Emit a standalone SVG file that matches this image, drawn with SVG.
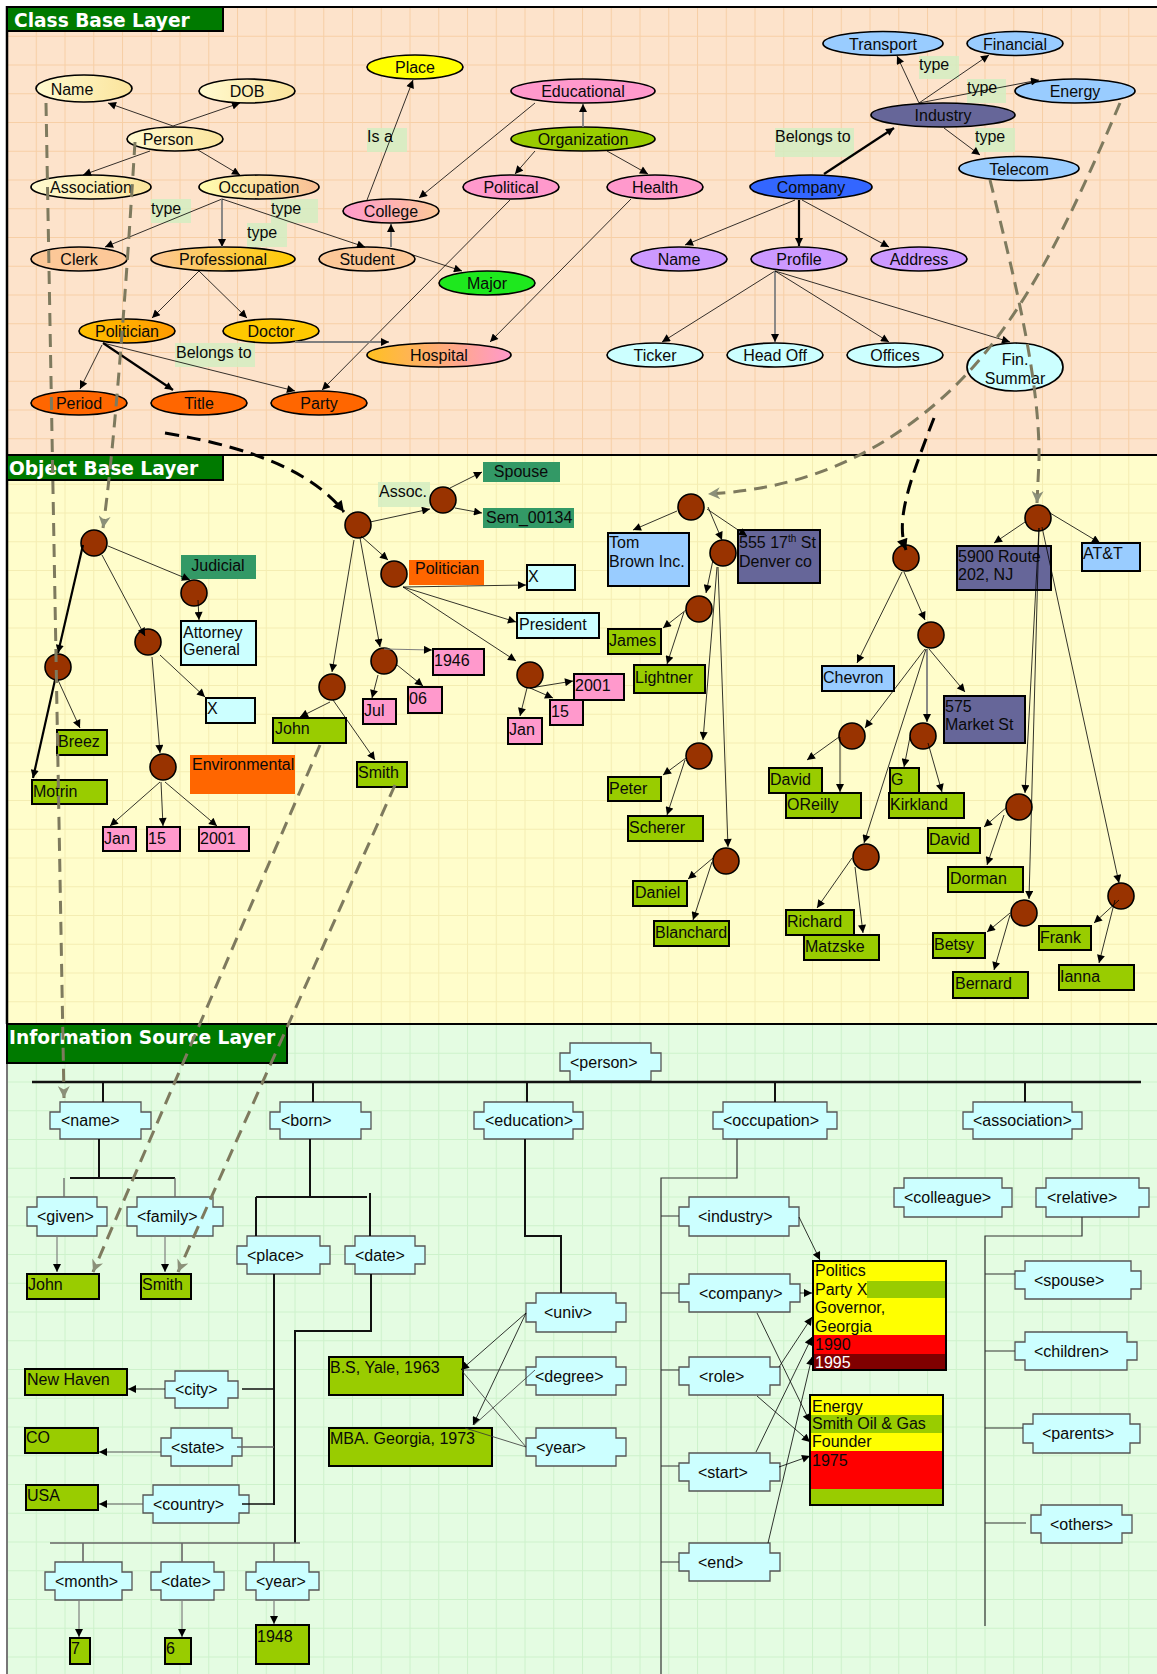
<svg xmlns="http://www.w3.org/2000/svg" width="1157" height="1674" viewBox="0 0 1157 1674">
<defs>
<pattern id="gridC" x="7" y="7" width="28.75" height="28.75" patternUnits="userSpaceOnUse">
<rect width="28.75" height="28.75" fill="#FDE3CB"/>
<path d="M0,0.5H28.75M0.5,0V28.75" stroke="#F7CFA6" stroke-width="1"/>
</pattern>
<pattern id="gridO" x="7" y="455" width="28.75" height="28.75" patternUnits="userSpaceOnUse">
<rect width="28.75" height="28.75" fill="#FFFDCB"/>
<path d="M0,0.5H28.75M0.5,0V28.75" stroke="#F4EDB2" stroke-width="1"/>
</pattern>
<pattern id="gridI" x="7" y="1024" width="28.75" height="28.75" patternUnits="userSpaceOnUse">
<rect width="28.75" height="28.75" fill="#E4FCE2"/>
<path d="M0,0.5H28.75M0.5,0V28.75" stroke="#CDF2CB" stroke-width="1"/>
</pattern>
<linearGradient id="gY"><stop offset="0" stop-color="#FFFAD0"/><stop offset="1" stop-color="#FBE49C"/></linearGradient>
<linearGradient id="gOcc"><stop offset="0" stop-color="#FFFFB0"/><stop offset="1" stop-color="#F8BE94"/></linearGradient>
<linearGradient id="gProf"><stop offset="0" stop-color="#FCC898"/><stop offset="1" stop-color="#FFCC00"/></linearGradient>
<linearGradient id="gPol"><stop offset="0" stop-color="#FFC000"/><stop offset="1" stop-color="#FF9A00"/></linearGradient>
<linearGradient id="gCol"><stop offset="0" stop-color="#FF99CC"/><stop offset="1" stop-color="#FCC898"/></linearGradient>
<linearGradient id="gHos"><stop offset="0" stop-color="#FFC020"/><stop offset="1" stop-color="#FF99CC"/></linearGradient>
<marker id="ah" viewBox="0 0 10 10" refX="10" refY="5" markerWidth="9" markerHeight="8" markerUnits="userSpaceOnUse" orient="auto"><path d="M0,0L10,5L0,10z" fill="#000"/></marker>
<marker id="ag" viewBox="0 0 10 10" refX="10" refY="5" markerWidth="13" markerHeight="12" markerUnits="userSpaceOnUse" orient="auto"><path d="M0,0L10,5L0,10L3,5z" fill="#8B9079"/></marker>
<marker id="ab" viewBox="0 0 10 10" refX="10" refY="5" markerWidth="12" markerHeight="11" markerUnits="userSpaceOnUse" orient="auto"><path d="M0,0L10,5L0,10z" fill="#000"/></marker>
</defs>
<style>
text{font-family:"Liberation Sans",Arial,Helvetica,sans-serif;font-size:16px;fill:#0a0a0a}
.c{text-anchor:middle}
.hd{font-family:"DejaVu Sans",Verdana,sans-serif;font-weight:bold;font-size:18.6px;fill:#fff}
.hb{fill:#007A00;stroke:#000;stroke-width:2}
.el{stroke:#000;stroke-width:1.7}
.lb{fill:#D3EDC2;opacity:.85}
.bx{stroke:#000;stroke-width:2}
.ob{fill:#993300;stroke:#000;stroke-width:1.6}
.e{stroke:#000;stroke-width:.8;fill:none;marker-end:url(#ah)}
.g{stroke:#7F7F7F;stroke-width:1.8;fill:none;marker-end:url(#ah)}
.k{stroke:#000;stroke-width:2.2;fill:none;marker-end:url(#ah)}
.dg{stroke:#7E7A5E;stroke-width:3;stroke-dasharray:13 8;fill:none;marker-end:url(#ag)}
.db{stroke:#000;stroke-width:3;stroke-dasharray:14 8;fill:none;marker-end:url(#ab)}
.xb{fill:#CCFFFF;stroke:#555;stroke-width:1.3}
.tr{stroke:#111;stroke-width:2;fill:none}
.tt{stroke:#333;stroke-width:1.2;fill:none}
.tg{stroke:#666;stroke-width:1.3;fill:none}
</style>

<!-- layer backgrounds and frame -->
<rect width="1157" height="1674" fill="#fff"/>
<rect x="7" y="7" width="1150" height="448" fill="url(#gridC)"/>
<rect x="7" y="455" width="1150" height="569" fill="url(#gridO)"/>
<rect x="7" y="1024" width="1150" height="650" fill="url(#gridI)"/>
<path d="M7,7H1157M7,455H1157M7,1024H1157" stroke="#000" stroke-width="2"/>
<path d="M7,6V1024" stroke="#000" stroke-width="2.5"/>
<path d="M7,1024V1674" stroke="#777" stroke-width="2"/>

<g id="hdr-class"><rect class="hb" x="7" y="7" width="216" height="24"/><text class="hd" x="14" y="27">Class Base Layer</text></g>
<g id="hdr-object"><rect class="hb" x="7" y="455" width="216" height="25"/><text class="hd" x="9" y="475">Object Base Layer</text></g>
<g id="hdr-info"><rect class="hb" x="7" y="1024" width="280" height="39"/><text class="hd" x="9" y="1044">Information Source Layer</text></g>

<!-- class base layer: relation labels -->
<g id="labels">
<rect class="lb" x="151" y="199" width="40" height="24"/><text x="151" y="214">type</text>
<rect class="lb" x="271" y="199" width="47" height="24"/><text x="271" y="214">type</text>
<rect class="lb" x="247" y="223" width="40" height="24"/><text x="247" y="238">type</text>
<rect class="lb" x="175" y="343" width="80" height="24"/><text x="176" y="358">Belongs to</text>
<rect class="lb" x="367" y="128" width="40" height="24"/><text x="367" y="142">Is a</text>
<rect class="lb" x="919" y="56" width="40" height="23"/><text x="919" y="70">type</text>
<rect class="lb" x="967" y="79" width="39" height="24"/><text x="967" y="93">type</text>
<rect class="lb" x="975" y="128" width="40" height="24"/><text x="975" y="142">type</text>
<rect class="lb" x="775" y="128" width="79" height="29"/><text x="775" y="142">Belongs to</text>
<rect class="lb" x="378" y="482" width="52" height="25"/><text x="379" y="497">Assoc.</text>
</g>

<!-- class base layer: concept nodes -->
<g id="c-name"><ellipse class="el" cx="84" cy="88.5" rx="48" ry="13.5" fill="url(#gY)"/><text class="c" x="72" y="95">Name</text></g>
<g id="c-dob"><ellipse class="el" cx="247" cy="91" rx="48" ry="12" fill="url(#gY)"/><text class="c" x="247" y="97">DOB</text></g>
<g id="c-person"><ellipse class="el" cx="175" cy="139" rx="48" ry="12" fill="url(#gY)"/><text class="c" x="168" y="145">Person</text></g>
<g id="c-association"><ellipse class="el" cx="91" cy="187" rx="60" ry="12" fill="url(#gY)"/><text class="c" x="91" y="193">Association</text></g>
<g id="c-occupation"><ellipse class="el" cx="259" cy="187" rx="60" ry="12" fill="url(#gOcc)"/><text class="c" x="259" y="193">Occupation</text></g>
<g id="c-clerk"><ellipse class="el" cx="79" cy="259" rx="48" ry="12" fill="#FCC898"/><text class="c" x="79" y="265">Clerk</text></g>
<g id="c-professional"><ellipse class="el" cx="223" cy="259" rx="72" ry="12" fill="url(#gProf)"/><text class="c" x="223" y="265">Professional</text></g>
<g id="c-student"><ellipse class="el" cx="367" cy="259" rx="48" ry="12" fill="#FCC898"/><text class="c" x="367" y="265">Student</text></g>
<g id="c-politician"><ellipse class="el" cx="127" cy="331" rx="48" ry="12" fill="url(#gPol)"/><text class="c" x="127" y="337">Politician</text></g>
<g id="c-doctor"><ellipse class="el" cx="271" cy="331" rx="48" ry="12" fill="#FFC800"/><text class="c" x="271" y="337">Doctor</text></g>
<g id="c-period"><ellipse class="el" cx="79" cy="403" rx="48" ry="12" fill="#FF6600"/><text class="c" x="79" y="409">Period</text></g>
<g id="c-title"><ellipse class="el" cx="199" cy="403" rx="48" ry="12" fill="#FF6600"/><text class="c" x="199" y="409">Title</text></g>
<g id="c-party"><ellipse class="el" cx="319" cy="403" rx="48" ry="12" fill="#FF6600"/><text class="c" x="319" y="409">Party</text></g>
<g id="c-place"><ellipse class="el" cx="415" cy="67" rx="48" ry="12" fill="#FFFF00"/><text class="c" x="415" y="73">Place</text></g>
<g id="c-educational"><ellipse class="el" cx="583" cy="91" rx="72" ry="12" fill="#FF99CC"/><text class="c" x="583" y="97">Educational</text></g>
<g id="c-organization"><ellipse class="el" cx="583" cy="139" rx="72" ry="12" fill="#99CC00"/><text class="c" x="583" y="145">Organization</text></g>
<g id="c-college"><ellipse class="el" cx="391" cy="211" rx="48" ry="12" fill="url(#gCol)"/><text class="c" x="391" y="217">College</text></g>
<g id="c-political"><ellipse class="el" cx="511" cy="187" rx="48" ry="12" fill="#FF99CC"/><text class="c" x="511" y="193">Political</text></g>
<g id="c-health"><ellipse class="el" cx="655" cy="187" rx="48" ry="12" fill="#FF99CC"/><text class="c" x="655" y="193">Health</text></g>
<g id="c-major"><ellipse class="el" cx="487" cy="283" rx="48" ry="12" fill="#1EE81E"/><text class="c" x="487" y="289">Major</text></g>
<g id="c-hospital"><ellipse class="el" cx="439" cy="355" rx="72" ry="12" fill="url(#gHos)"/><text class="c" x="439" y="361">Hospital</text></g>
<g id="c-transport"><ellipse class="el" cx="883" cy="43.5" rx="60" ry="12" fill="#99CCFF"/><text class="c" x="883" y="50">Transport</text></g>
<g id="c-financial"><ellipse class="el" cx="1015" cy="43.5" rx="48" ry="12" fill="#99CCFF"/><text class="c" x="1015" y="50">Financial</text></g>
<g id="c-energy"><ellipse class="el" cx="1075" cy="91" rx="60" ry="12" fill="#99CCFF"/><text class="c" x="1075" y="97">Energy</text></g>
<g id="c-industry"><ellipse class="el" cx="943" cy="115" rx="72" ry="12" fill="#666699"/><text class="c" x="943" y="121">Industry</text></g>
<g id="c-telecom"><ellipse class="el" cx="1019" cy="168.5" rx="60" ry="12" fill="#99CCFF"/><text class="c" x="1019" y="175">Telecom</text></g>
<g id="c-company"><ellipse class="el" cx="811" cy="187" rx="61" ry="12" fill="#3366FF"/><text class="c" x="811" y="193">Company</text></g>
<g id="c-coname"><ellipse class="el" cx="679" cy="259" rx="48" ry="12" fill="#CC99FF"/><text class="c" x="679" y="265">Name</text></g>
<g id="c-profile"><ellipse class="el" cx="799" cy="259" rx="48" ry="12" fill="#CC99FF"/><text class="c" x="799" y="265">Profile</text></g>
<g id="c-address"><ellipse class="el" cx="919" cy="259" rx="48" ry="12" fill="#CC99FF"/><text class="c" x="919" y="265">Address</text></g>
<g id="c-ticker"><ellipse class="el" cx="655" cy="355" rx="48" ry="12" fill="#CCFFFF"/><text class="c" x="655" y="361">Ticker</text></g>
<g id="c-headoff"><ellipse class="el" cx="775" cy="355" rx="48" ry="12" fill="#CCFFFF"/><text class="c" x="775" y="361">Head Off</text></g>
<g id="c-offices"><ellipse class="el" cx="895" cy="355" rx="48" ry="12" fill="#CCFFFF"/><text class="c" x="895" y="361">Offices</text></g>
<g id="c-finsummary"><ellipse class="el" cx="1015" cy="367" rx="48" ry="24" fill="#CCFFFF"/><text class="c" x="1015" y="365">Fin.</text><text class="c" x="1015" y="384">Summar</text></g>

<!-- object base layer: instance nodes -->
<g id="o-a"><circle class="ob" cx="94" cy="543" r="13"/></g>
<g id="o-b"><circle class="ob" cx="194" cy="593" r="13"/></g>
<g id="o-c"><circle class="ob" cx="148" cy="642" r="13"/></g>
<g id="o-d"><circle class="ob" cx="58" cy="667" r="13"/></g>
<g id="o-e"><circle class="ob" cx="163" cy="767" r="13"/></g>
<g id="o-f"><circle class="ob" cx="358" cy="525" r="13"/></g>
<g id="o-g"><circle class="ob" cx="332" cy="687" r="13"/></g>
<g id="o-jn"><circle class="ob" cx="384" cy="661" r="13"/></g>
<g id="o-h"><circle class="ob" cx="394" cy="574" r="13"/></g>
<g id="o-i"><circle class="ob" cx="530" cy="675" r="13"/></g>
<g id="o-j"><circle class="ob" cx="443" cy="500" r="13"/></g>
<g id="o-k"><circle class="ob" cx="691" cy="507" r="13"/></g>
<g id="o-l"><circle class="ob" cx="723" cy="553" r="13"/></g>
<g id="o-m"><circle class="ob" cx="699" cy="609" r="13"/></g>
<g id="o-n"><circle class="ob" cx="699" cy="756" r="13"/></g>
<g id="o-o"><circle class="ob" cx="726" cy="861" r="13"/></g>
<g id="o-p"><circle class="ob" cx="906" cy="558" r="13"/></g>
<g id="o-q"><circle class="ob" cx="931" cy="635" r="13"/></g>
<g id="o-r"><circle class="ob" cx="852" cy="736" r="13"/></g>
<g id="o-s"><circle class="ob" cx="923" cy="736" r="13"/></g>
<g id="o-t"><circle class="ob" cx="866" cy="857" r="13"/></g>
<g id="o-u"><circle class="ob" cx="1038" cy="518" r="13"/></g>
<g id="o-v"><circle class="ob" cx="1019" cy="807" r="13"/></g>
<g id="o-w"><circle class="ob" cx="1024" cy="913" r="13"/></g>
<g id="o-x"><circle class="ob" cx="1121" cy="896" r="13"/></g>

<g id="o-judicial"><rect x="181" y="555" width="75" height="24" fill="#339966"/><text class="c" x="218" y="571">Judicial</text></g>
<g id="o-attorney"><rect class="bx" x="181" y="621" width="75" height="44" fill="#CCFFFF"/><text x="183" y="638">Attorney</text><text x="183" y="655">General</text></g>
<g id="o-x1"><rect class="bx" x="206" y="698" width="49" height="25" fill="#CCFFFF"/><text x="207" y="714">X</text></g>
<g id="o-breez"><rect class="bx" x="57" y="730" width="50" height="25" fill="#99CC00"/><text x="58" y="747">Breez</text></g>
<g id="o-motrin"><rect class="bx" x="32" y="780" width="75" height="24" fill="#99CC00"/><text x="33" y="797">Motrin</text></g>
<g id="o-environmental"><rect x="190" y="755" width="105" height="39" fill="#FF6600"/><text x="192" y="770">Environmental</text></g>
<g id="o-jan1"><rect class="bx" x="103" y="827" width="33" height="24" fill="#FF99CC"/><text x="104" y="844">Jan</text></g>
<g id="o-d15a"><rect class="bx" x="147" y="827" width="33" height="24" fill="#FF99CC"/><text x="148" y="844">15</text></g>
<g id="o-y2001a"><rect class="bx" x="199" y="827" width="50" height="24" fill="#FF99CC"/><text x="200" y="844">2001</text></g>
<g id="o-john"><rect class="bx" x="273" y="718" width="73" height="25" fill="#99CC00"/><text x="275" y="734">John</text></g>
<g id="o-smith"><rect class="bx" x="357" y="762" width="50" height="25" fill="#99CC00"/><text x="358" y="778">Smith</text></g>
<g id="o-jul"><rect class="bx" x="363" y="699" width="33" height="25" fill="#FF99CC"/><text x="364" y="716">Jul</text></g>
<g id="o-d06"><rect class="bx" x="408" y="687" width="34" height="26" fill="#FF99CC"/><text x="409" y="704">06</text></g>
<g id="o-y1946"><rect class="bx" x="433" y="649" width="51" height="26" fill="#FF99CC"/><text x="434" y="666">1946</text></g>
<g id="o-politician"><rect x="409" y="560" width="75" height="25" fill="#FF6600"/><text x="415" y="574">Politician</text></g>
<g id="o-x2"><rect class="bx" x="527" y="565" width="48" height="25" fill="#CCFFFF"/><text x="528" y="582">X</text></g>
<g id="o-president"><rect class="bx" x="517" y="613" width="82" height="25" fill="#CCFFFF"/><text x="519" y="630">President</text></g>
<g id="o-jan2"><rect class="bx" x="508" y="718" width="34" height="26" fill="#FF99CC"/><text x="509" y="735">Jan</text></g>
<g id="o-d15b"><rect class="bx" x="550" y="700" width="33" height="25" fill="#FF99CC"/><text x="551" y="717">15</text></g>
<g id="o-y2001b"><rect class="bx" x="574" y="674" width="50" height="26" fill="#FF99CC"/><text x="575" y="691">2001</text></g>
<g id="o-spouse"><rect x="483" y="462" width="77" height="20" fill="#339966"/><text class="c" x="521" y="477">Spouse</text></g>
<g id="o-sem"><rect x="483" y="508" width="91" height="20" fill="#339966"/><text x="486" y="523">Sem_00134</text></g>
<g id="o-tombrown"><rect class="bx" x="608" y="533" width="81" height="53" fill="#99CCFF"/><text x="609" y="548">Tom</text><text x="609" y="567">Brown Inc.</text></g>
<g id="o-555"><rect class="bx" x="738" y="530" width="82" height="53" fill="#666699"/><text x="739" y="548">555 17<tspan font-size="10" dy="-6">th</tspan><tspan dy="6"> St</tspan></text><text x="739" y="567">Denver co</text></g>
<g id="o-james"><rect class="bx" x="608" y="629" width="53" height="25" fill="#99CC00"/><text x="609" y="646">James</text></g>
<g id="o-lightner"><rect class="bx" x="634" y="665" width="71" height="28" fill="#99CC00"/><text x="635" y="683">Lightner</text></g>
<g id="o-peter"><rect class="bx" x="608" y="777" width="53" height="24" fill="#99CC00"/><text x="609" y="794">Peter</text></g>
<g id="o-scherer"><rect class="bx" x="628" y="816" width="75" height="25" fill="#99CC00"/><text x="629" y="833">Scherer</text></g>
<g id="o-daniel"><rect class="bx" x="633" y="881" width="54" height="25" fill="#99CC00"/><text x="635" y="898">Daniel</text></g>
<g id="o-blanchard"><rect class="bx" x="654" y="921" width="75" height="25" fill="#99CC00"/><text x="655" y="938">Blanchard</text></g>
<g id="o-chevron"><rect class="bx" x="822" y="666" width="72" height="25" fill="#99CCFF"/><text x="823" y="683">Chevron</text></g>
<g id="o-575"><rect class="bx" x="944" y="696" width="81" height="47" fill="#666699"/><text x="945" y="712">575</text><text x="945" y="730">Market St</text></g>
<g id="o-david1"><rect class="bx" x="769" y="768" width="53" height="25" fill="#99CC00"/><text x="770" y="785">David</text></g>
<g id="o-oreilly"><rect class="bx" x="786" y="793" width="75" height="25" fill="#99CC00"/><text x="787" y="810">OReilly</text></g>
<g id="o-g-initial"><rect class="bx" x="890" y="768" width="29" height="25" fill="#99CC00"/><text x="891" y="785">G</text></g>
<g id="o-kirkland"><rect class="bx" x="889" y="793" width="75" height="25" fill="#99CC00"/><text x="890" y="810">Kirkland</text></g>
<g id="o-richard"><rect class="bx" x="786" y="910" width="68" height="25" fill="#99CC00"/><text x="787" y="927">Richard</text></g>
<g id="o-matzske"><rect class="bx" x="804" y="935" width="75" height="25" fill="#99CC00"/><text x="805" y="952">Matzske</text></g>
<g id="o-5900"><rect class="bx" x="957" y="546" width="94" height="44" fill="#666699"/><text x="958" y="562">5900 Route</text><text x="958" y="580">202, NJ</text></g>
<g id="o-att"><rect class="bx" x="1082" y="543" width="58" height="28" fill="#99CCFF"/><text x="1083" y="559">AT&amp;T</text></g>
<g id="o-david2"><rect class="bx" x="928" y="828" width="52" height="25" fill="#99CC00"/><text x="929" y="845">David</text></g>
<g id="o-dorman"><rect class="bx" x="948" y="867" width="75" height="25" fill="#99CC00"/><text x="950" y="884">Dorman</text></g>
<g id="o-betsy"><rect class="bx" x="933" y="933" width="52" height="25" fill="#99CC00"/><text x="934" y="950">Betsy</text></g>
<g id="o-bernard"><rect class="bx" x="953" y="972" width="75" height="26" fill="#99CC00"/><text x="955" y="989">Bernard</text></g>
<g id="o-frank"><rect class="bx" x="1039" y="926" width="52" height="24" fill="#99CC00"/><text x="1040" y="943">Frank</text></g>
<g id="o-ianna"><rect class="bx" x="1059" y="965" width="75" height="25" fill="#99CC00"/><text x="1060" y="982">Ianna</text></g>

<!-- information source layer: element tags -->
<g id="s-person"><path class="xb" d="M10,0h81v10h10v18h-10v10h-81v-10h-10v-18h10z" transform="translate(560,1043)"/><text x="570" y="1067.5">&lt;person&gt;</text></g>
<g id="s-name"><path class="xb" d="M10,0h81v10h10v17h-10v10h-81v-10h-10v-17h10z" transform="translate(50,1102)"/><text x="61" y="1126">&lt;name&gt;</text></g>
<g id="s-born"><path class="xb" d="M10,0h81v10h10v17h-10v10h-81v-10h-10v-17h10z" transform="translate(270,1102)"/><text x="281" y="1126">&lt;born&gt;</text></g>
<g id="s-education"><path class="xb" d="M10,0h89v10h10v17h-10v10h-89v-10h-10v-17h10z" transform="translate(474,1102)"/><text x="485" y="1126">&lt;education&gt;</text></g>
<g id="s-occupation"><path class="xb" d="M10,0h104v10h10v17h-10v10h-104v-10h-10v-17h10z" transform="translate(713,1102)"/><text x="723" y="1126">&lt;occupation&gt;</text></g>
<g id="s-association"><path class="xb" d="M10,0h99v10h10v17h-10v10h-99v-10h-10v-17h10z" transform="translate(963,1102)"/><text x="973" y="1126">&lt;association&gt;</text></g>
<g id="s-given"><path class="xb" d="M10,0h60v10h10v19h-10v10h-60v-10h-10v-19h10z" transform="translate(27,1197)"/><text x="37" y="1222">&lt;given&gt;</text></g>
<g id="s-family"><path class="xb" d="M10,0h76v10h10v19h-10v10h-76v-10h-10v-19h10z" transform="translate(127,1197)"/><text x="137" y="1222">&lt;family&gt;</text></g>
<g id="s-place"><path class="xb" d="M10,0h73v10h10v18h-10v10h-73v-10h-10v-18h10z" transform="translate(237,1236)"/><text x="247" y="1260.5">&lt;place&gt;</text></g>
<g id="s-bdate"><path class="xb" d="M10,0h60v10h10v18h-10v10h-60v-10h-10v-18h10z" transform="translate(345,1236)"/><text x="355" y="1260.5">&lt;date&gt;</text></g>
<g id="s-city"><path class="xb" d="M10,0h53v10h10v17h-10v10h-53v-10h-10v-17h10z" transform="translate(165,1371)"/><text x="175" y="1395">&lt;city&gt;</text></g>
<g id="s-state"><path class="xb" d="M10,0h61v10h10v18h-10v10h-61v-10h-10v-18h10z" transform="translate(161,1428)"/><text x="171" y="1452.5">&lt;state&gt;</text></g>
<g id="s-country"><path class="xb" d="M10,0h86v10h10v18h-10v10h-86v-10h-10v-18h10z" transform="translate(143,1485)"/><text x="153" y="1509.5">&lt;country&gt;</text></g>
<g id="s-month"><path class="xb" d="M10,0h67v10h10v18h-10v10h-67v-10h-10v-18h10z" transform="translate(45,1562)"/><text x="55" y="1586.5">&lt;month&gt;</text></g>
<g id="s-date"><path class="xb" d="M10,0h53v10h10v18h-10v10h-53v-10h-10v-18h10z" transform="translate(151,1562)"/><text x="161" y="1586.5">&lt;date&gt;</text></g>
<g id="s-year"><path class="xb" d="M10,0h53v10h10v18h-10v10h-53v-10h-10v-18h10z" transform="translate(246,1562)"/><text x="256" y="1586.5">&lt;year&gt;</text></g>
<g id="s-univ"><path class="xb" d="M10,0h80v10h10v19h-10v10h-80v-10h-10v-19h10z" transform="translate(526,1293)"/><text x="544" y="1318">&lt;univ&gt;</text></g>
<g id="s-degree"><path class="xb" d="M10,0h80v10h10v18h-10v10h-80v-10h-10v-18h10z" transform="translate(526,1357)"/><text x="535" y="1381.5">&lt;degree&gt;</text></g>
<g id="s-eyear"><path class="xb" d="M10,0h80v10h10v18h-10v10h-80v-10h-10v-18h10z" transform="translate(526,1428)"/><text x="536" y="1452.5">&lt;year&gt;</text></g>
<g id="s-industry"><path class="xb" d="M10,0h100v10h10v19h-10v10h-100v-10h-10v-19h10z" transform="translate(679,1197)"/><text x="698" y="1222">&lt;industry&gt;</text></g>
<g id="s-company"><path class="xb" d="M10,0h101v10h10v18h-10v10h-101v-10h-10v-18h10z" transform="translate(679,1274)"/><text x="699" y="1298.5">&lt;company&gt;</text></g>
<g id="s-role"><path class="xb" d="M10,0h81v10h10v18h-10v10h-81v-10h-10v-18h10z" transform="translate(679,1357)"/><text x="699" y="1381.5">&lt;role&gt;</text></g>
<g id="s-start"><path class="xb" d="M10,0h81v10h10v18h-10v10h-81v-10h-10v-18h10z" transform="translate(679,1453)"/><text x="698" y="1477.5">&lt;start&gt;</text></g>
<g id="s-end"><path class="xb" d="M10,0h81v10h10v18h-10v10h-81v-10h-10v-18h10z" transform="translate(679,1543)"/><text x="698" y="1567.5">&lt;end&gt;</text></g>
<g id="s-colleague"><path class="xb" d="M10,0h98v10h10v19h-10v10h-98v-10h-10v-19h10z" transform="translate(894,1178)"/><text x="904" y="1203">&lt;colleague&gt;</text></g>
<g id="s-relative"><path class="xb" d="M10,0h93v10h10v19h-10v10h-93v-10h-10v-19h10z" transform="translate(1036,1178)"/><text x="1047" y="1203">&lt;relative&gt;</text></g>
<g id="s-spouse"><path class="xb" d="M10,0h106v10h10v18h-10v10h-106v-10h-10v-18h10z" transform="translate(1015,1261)"/><text x="1034" y="1285.5">&lt;spouse&gt;</text></g>
<g id="s-children"><path class="xb" d="M10,0h102v10h10v18h-10v10h-102v-10h-10v-18h10z" transform="translate(1015,1332)"/><text x="1034" y="1356.5">&lt;children&gt;</text></g>
<g id="s-parents"><path class="xb" d="M10,0h97v10h10v19h-10v10h-97v-10h-10v-19h10z" transform="translate(1023,1414)"/><text x="1042" y="1439">&lt;parents&gt;</text></g>
<g id="s-others"><path class="xb" d="M10,0h81v10h10v18h-10v10h-81v-10h-10v-18h10z" transform="translate(1031,1505)"/><text x="1050" y="1529.5">&lt;others&gt;</text></g>

<!-- information source layer: values -->
<g id="v-john"><rect class="bx" x="27" y="1274" width="72" height="25" fill="#99CC00"/><text x="28" y="1290">John</text></g>
<g id="v-smith"><rect class="bx" x="141" y="1274" width="50" height="25" fill="#99CC00"/><text x="142" y="1290">Smith</text></g>
<g id="v-newhaven"><rect class="bx" x="25" y="1369" width="102" height="26" fill="#99CC00"/><text x="27" y="1385">New Haven</text></g>
<g id="v-co"><rect class="bx" x="25" y="1428" width="73" height="25" fill="#99CC00"/><text x="26" y="1443">CO</text></g>
<g id="v-usa"><rect class="bx" x="26" y="1485" width="72" height="25" fill="#99CC00"/><text x="27" y="1501">USA</text></g>
<g id="v-bs"><rect class="bx" x="329" y="1357" width="134" height="38" fill="#99CC00"/><text x="330" y="1373">B.S, Yale, 1963</text></g>
<g id="v-mba"><rect class="bx" x="329" y="1428" width="163" height="38" fill="#99CC00"/><text x="330" y="1444">MBA. Georgia, 1973</text></g>
<g id="v-7"><rect class="bx" x="70" y="1638" width="20" height="26" fill="#99CC00"/><text x="71" y="1654">7</text></g>
<g id="v-6"><rect class="bx" x="165" y="1638" width="26" height="26" fill="#99CC00"/><text x="166" y="1654">6</text></g>
<g id="v-1948"><rect class="bx" x="256" y="1625" width="53" height="39" fill="#99CC00"/><text x="257" y="1642">1948</text></g>
<g id="v-politics">
<rect x="813" y="1261" width="133" height="20" fill="#FFFF00"/>
<rect x="813" y="1281" width="54" height="17" fill="#FFFF00"/>
<rect x="867" y="1281" width="79" height="17" fill="#99CC00"/>
<rect x="813" y="1298" width="133" height="37" fill="#FFFF00"/>
<rect x="813" y="1335" width="133" height="19" fill="#FF0000"/>
<rect x="813" y="1354" width="133" height="16" fill="#800000"/>
<rect x="813" y="1261" width="133" height="109" fill="none" stroke="#000" stroke-width="2"/>
<text x="815" y="1276">Politics</text><text x="815" y="1295">Party X</text><text x="815" y="1313">Governor,</text><text x="815" y="1332">Georgia</text><text x="815" y="1350">1990</text><text x="815" y="1368" style="fill:#fff">1995</text>
</g>
<g id="v-energy">
<rect x="810" y="1395" width="133" height="20" fill="#FFFF00"/>
<rect x="810" y="1415" width="133" height="18" fill="#99CC00"/>
<rect x="810" y="1433" width="133" height="18" fill="#FFFF00"/>
<rect x="810" y="1451" width="133" height="38" fill="#FF0000"/>
<rect x="810" y="1489" width="133" height="16" fill="#99CC00"/>
<rect x="810" y="1395" width="133" height="110" fill="none" stroke="#000" stroke-width="2"/>
<text x="812" y="1412">Energy</text><text x="812" y="1429">Smith Oil &amp; Gas</text><text x="812" y="1447">Founder</text><text x="812" y="1466">1975</text>
</g>

<!-- connectors -->
<g id="connectors">
<!-- class base layer relations -->
<path class="e" d="M173,126L108,103"/>
<path class="e" d="M173,126L240,103"/>
<path class="e" d="M150,151L83,175"/>
<path class="e" d="M198,150L240,175"/>
<path class="e" d="M222,199L105,247"/>
<path class="g" d="M222,199L222,247"/>
<path class="e" d="M222,199L365,247"/>
<path class="g" d="M391,247L391,224"/>
<path class="e" d="M413,255L462,271"/>
<path class="e" d="M367,200L413,80"/>
<path class="e" d="M535,103L419,198"/>
<path class="g" d="M583,127L583,104"/>
<path class="e" d="M535,151L515,174"/>
<path class="e" d="M607,151L648,174"/>
<path class="e" d="M510,200L322,390"/>
<path class="e" d="M631,199L490,342"/>
<path class="g" d="M295,342L389,342"/>
<path class="e" d="M199,271L152,318"/>
<path class="e" d="M199,271L247,318"/>
<path class="e" d="M102,345L80,389"/>
<path class="k" d="M103,343L173,390"/>
<path class="e" d="M103,343L295,391"/>
<path class="e" d="M919,103L897,56"/>
<path class="e" d="M919,103L989,55"/>
<path class="e" d="M919,103L1039,80"/>
<path class="e" d="M944,128L980,155"/>
<path class="k" d="M824,174L894,128"/>
<path class="k" d="M799,200L799,246"/>
<path class="e" d="M802,200L889,247"/>
<path class="e" d="M795,200L685,245"/>
<path class="e" d="M775,271L662,342"/>
<path class="g" d="M775,271L775,342"/>
<path class="e" d="M775,271L889,342"/>
<path class="e" d="M775,271L1010,342"/>
<!-- object base layer relations -->
<path class="k" d="M83,545L58,653"/>
<path class="k" d="M55,680L33,778"/>
<path class="e" d="M58,680L80,728"/>
<path class="e" d="M108,546L190,580"/>
<path class="e" d="M198,600L199,620"/>
<path class="e" d="M102,555L145,636"/>
<path class="e" d="M160,655L205,697"/>
<path class="e" d="M152,657L160,753"/>
<path class="e" d="M160,782L110,826"/>
<path class="e" d="M161,782L163,826"/>
<path class="e" d="M165,782L217,826"/>
<path class="e" d="M354,540L332,672"/>
<path class="e" d="M330,702L300,717"/>
<path class="e" d="M333,700L375,760"/>
<path class="e" d="M360,538L380,647"/>
<path class="e" d="M378,675L372,698"/>
<path class="e" d="M397,665L423,686"/>
<path class="g" style="stroke-width:1.2" d="M384,649L432,650"/>
<path class="e" d="M361,536L388,560"/>
<path class="e" d="M403,587L526,585"/>
<path class="e" d="M403,587L516,622"/>
<path class="e" d="M403,587L516,661"/>
<path class="e" d="M527,688L520,716"/>
<path class="e" d="M530,688L553,698"/>
<path class="e" d="M530,688L573,681"/>
<path class="e" d="M370,522L430,509"/>
<path class="e" d="M450,488L482,472"/>
<path class="e" d="M455,508L482,513"/>
<path class="e" d="M677,511L633,530"/>
<path class="e" d="M707,509L747,536"/>
<path class="e" d="M708,507L722,540"/>
<path class="e" d="M713,560L706,593"/>
<path class="e" d="M686,610L663,628"/>
<path class="e" d="M684,612L667,664"/>
<path class="e" d="M717,567L703,740"/>
<path class="e" d="M686,758L663,775"/>
<path class="e" d="M685,760L667,815"/>
<path class="e" d="M718,567L728,847"/>
<path class="e" d="M713,858L688,879"/>
<path class="e" d="M712,862L693,920"/>
<path class="e" d="M902,572L857,663"/>
<path class="e" d="M904,572L925,620"/>
<path class="e" d="M929,649L965,692"/>
<path class="e" d="M925,649L865,728"/>
<path class="g" d="M927,649L927,722"/>
<path class="e" d="M839,737L807,760"/>
<path class="e" d="M840,737L840,792"/>
<path class="e" d="M910,737L904,767"/>
<path class="e" d="M928,743L942,792"/>
<path class="e" d="M926,649L864,843"/>
<path class="e" d="M852,858L817,908"/>
<path class="e" d="M855,867L863,933"/>
<path class="e" d="M1025,522L994,543"/>
<path class="e" d="M1050,513L1100,543"/>
<path class="e" d="M1039,528L1025,793"/>
<path class="e" d="M1007,807L984,827"/>
<path class="e" d="M1004,815L987,865"/>
<path class="e" d="M1039,528L1029,899"/>
<path class="e" d="M1010,913L987,932"/>
<path class="e" d="M1010,915L994,970"/>
<path class="e" d="M1042,527L1119,883"/>
<path class="e" d="M1119,900L1094,923"/>
<path class="e" d="M1115,900L1099,963"/>
<!-- information source layer tree -->
<path d="M32,1082H1141" stroke="#111" stroke-width="2.5"/>
<path class="tr" d="M103,1082V1102M313,1082V1102M527,1082V1102M775,1082V1102M1025,1082V1102"/>
<path class="tr" d="M99,1139V1178M70,1178H175"/>
<path class="tg" d="M64,1178V1197M175,1178V1197"/>
<path class="g" style="stroke-width:1.2" d="M57,1236V1272"/>
<path class="g" style="stroke-width:1.2" d="M165,1236V1272"/>
<path class="tr" d="M310,1139V1197M256,1197H367M256,1197V1236M370,1193V1236"/>
<path class="tr" d="M274,1274V1505"/>
<path class="tr" style="stroke-width:1.4" d="M242,1389H274M242,1504H274"/>
<path class="tg" d="M237,1447H274"/>
<path class="e" d="M165,1389H128"/>
<path class="e" style="stroke:#555;stroke-width:1.2" d="M161,1452H99"/>
<path class="e" style="stroke:#555;stroke-width:1.2" d="M143,1504H99"/>
<path class="tr" d="M371,1274V1331H295V1543"/>
<path class="tg" style="stroke-width:1.6" d="M50,1543H300M83,1543V1562M182,1543V1562M274,1543V1562"/>
<path class="g" style="stroke-width:1.2" d="M79,1600V1637"/>
<path class="g" style="stroke-width:1.2" d="M182,1600V1637"/>
<path class="g" style="stroke-width:1.2" d="M274,1600V1624"/>
<path class="tr" d="M525,1139V1236H561V1293"/>
<path class="e" d="M526,1313L461,1370"/>
<path class="e" d="M526,1313L473,1425"/>
<path class="tt" style="stroke-width:.8" d="M526,1370H462M535,1370L474,1425M526,1447L462,1371M526,1447L465,1428"/>
<path class="tt" d="M737,1139V1178H661V1674"/>
<path class="tt" d="M661,1216H679M661,1293H679M661,1370H679M661,1466H679M661,1562H679"/>
<path class="e" d="M799,1217L820,1260"/>
<path class="e" d="M800,1293H812"/>
<path class="e" d="M757,1313L810,1422"/>
<path class="e" d="M779,1367L812,1317"/>
<path class="e" d="M757,1396L810,1442"/>
<path class="e" d="M756,1452L812,1337"/>
<path class="e" d="M779,1467L810,1456"/>
<path class="e" d="M768,1543L812,1357"/>
<path class="tt" d="M1082,1217V1236H985V1626"/>
<path class="tt" d="M985,1274H1015M985,1351H1015M985,1428H1023M985,1523H1026"/>
<!-- cross-layer mappings -->
<path class="dg" d="M46,103L64,1098"/>
<path class="dg" d="M135,142Q118,420 103,528"/>
<path class="dg" d="M320,745L93,1272"/>
<path class="dg" d="M395,785L178,1272"/>
<path class="dg" d="M1120,103C1070,220 1020,330 940,400S780,490 708,494"/>
<path class="dg" d="M990,180C1015,280 1040,380 1039,460L1037,503"/>
<path class="db" d="M165,433Q300,455 344,512"/>
<path class="db" d="M934,418C910,480 895,520 906,550"/>
</g>
</svg>
